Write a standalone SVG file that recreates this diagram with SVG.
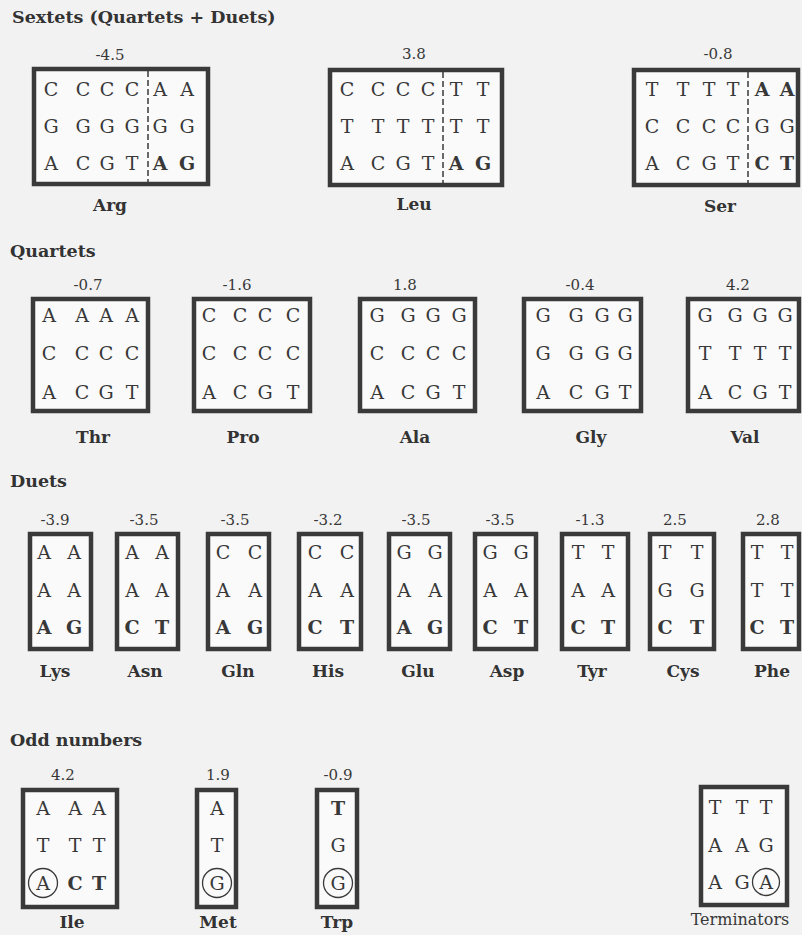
<svg xmlns="http://www.w3.org/2000/svg" width="802" height="935" viewBox="0 0 802 935">
<style>
text{font-family:"DejaVu Serif","Liberation Serif",serif;fill:#383838}
.h{font-size:17.5px;font-weight:bold;fill:#333}
.n{font-size:15px;text-anchor:middle}
.l{font-size:19px;text-anchor:middle}
.b{font-weight:bold}
.lab{font-size:17px;font-weight:bold;text-anchor:middle;fill:#333}
.box{fill:#fafafa;stroke:#3a3a3a;stroke-width:4.5}
.dash{stroke:#3a3a3a;stroke-width:1.5;stroke-dasharray:6 3;fill:none}
.circ{fill:none;stroke:#3a3a3a;stroke-width:1.3}
</style>
<rect x="0" y="0" width="802" height="935" fill="#f2f2f2"/>

<g id="titles">
<text class="h" x="12" y="23">Sextets (Quartets + Duets)</text>
<text class="h" x="10" y="257">Quartets</text>
<text class="h" x="10" y="487">Duets</text>
<text class="h" x="10" y="746">Odd numbers</text>
</g>

<!-- Sextets -->
<g id="arg">
<text class="n" x="110" y="60">-4.5</text>
<rect class="box" x="34" y="69" width="174" height="115"/>
<line class="dash" x1="148" y1="71" x2="148" y2="182"/>
<text class="l" x="51" y="96">C</text><text class="l" x="83" y="96">C</text><text class="l" x="107" y="96">C</text><text class="l" x="132" y="96">C</text><text class="l" x="160" y="96">A</text><text class="l" x="187" y="96">A</text>
<text class="l" x="51" y="133">G</text><text class="l" x="83" y="133">G</text><text class="l" x="107" y="133">G</text><text class="l" x="132" y="133">G</text><text class="l" x="160" y="133">G</text><text class="l" x="187" y="133">G</text>
<text class="l" x="51" y="170">A</text><text class="l" x="83" y="170">C</text><text class="l" x="107" y="170">G</text><text class="l" x="132" y="170">T</text><text class="l b" x="160" y="170">A</text><text class="l b" x="187" y="170">G</text>
<text class="lab" x="110" y="211">Arg</text>
</g>

<g id="leu">
<text class="n" x="414" y="59">3.8</text>
<rect class="box" x="330" y="70" width="172" height="115"/>
<line class="dash" x1="443" y1="72" x2="443" y2="183"/>
<text class="l" x="347" y="96">C</text><text class="l" x="378" y="96">C</text><text class="l" x="403" y="96">C</text><text class="l" x="428" y="96">C</text><text class="l" x="456" y="96">T</text><text class="l" x="483" y="96">T</text>
<text class="l" x="347" y="133">T</text><text class="l" x="378" y="133">T</text><text class="l" x="403" y="133">T</text><text class="l" x="428" y="133">T</text><text class="l" x="456" y="133">T</text><text class="l" x="483" y="133">T</text>
<text class="l" x="347" y="170">A</text><text class="l" x="378" y="170">C</text><text class="l" x="403" y="170">G</text><text class="l" x="428" y="170">T</text><text class="l b" x="456" y="170">A</text><text class="l b" x="483" y="170">G</text>
<text class="lab" x="414" y="210">Leu</text>
</g>

<g id="ser">
<text class="n" x="718" y="59">-0.8</text>
<rect class="box" x="634" y="70" width="164" height="115"/>
<line class="dash" x1="748" y1="72" x2="748" y2="183"/>
<text class="l" x="652" y="96">T</text><text class="l" x="683" y="96">T</text><text class="l" x="709" y="96">T</text><text class="l" x="733" y="96">T</text><text class="l b" x="762" y="96">A</text><text class="l b" x="787" y="96">A</text>
<text class="l" x="652" y="133">C</text><text class="l" x="683" y="133">C</text><text class="l" x="709" y="133">C</text><text class="l" x="733" y="133">C</text><text class="l" x="762" y="133">G</text><text class="l" x="787" y="133">G</text>
<text class="l" x="652" y="170">A</text><text class="l" x="683" y="170">C</text><text class="l" x="709" y="170">G</text><text class="l" x="733" y="170">T</text><text class="l b" x="762" y="170">C</text><text class="l b" x="787" y="170">T</text>
<text class="lab" x="720" y="212">Ser</text>
</g>

<!-- Quartets -->
<g id="thr">
<text class="n" x="88" y="290">-0.7</text>
<rect class="box" x="33" y="299" width="115" height="112"/>
<text class="l" x="49" y="322">A</text><text class="l" x="82" y="322">A</text><text class="l" x="106" y="322">A</text><text class="l" x="132" y="322">A</text>
<text class="l" x="49" y="360">C</text><text class="l" x="82" y="360">C</text><text class="l" x="106" y="360">C</text><text class="l" x="132" y="360">C</text>
<text class="l" x="49" y="399">A</text><text class="l" x="82" y="399">C</text><text class="l" x="106" y="399">G</text><text class="l" x="132" y="399">T</text>
<text class="lab" x="93" y="443">Thr</text>
</g>

<g id="pro">
<text class="n" x="237" y="290">-1.6</text>
<rect class="box" x="194" y="299" width="116" height="112"/>
<text class="l" x="209" y="322">C</text><text class="l" x="240" y="322">C</text><text class="l" x="265" y="322">C</text><text class="l" x="293" y="322">C</text>
<text class="l" x="209" y="360">C</text><text class="l" x="240" y="360">C</text><text class="l" x="265" y="360">C</text><text class="l" x="293" y="360">C</text>
<text class="l" x="209" y="399">A</text><text class="l" x="240" y="399">C</text><text class="l" x="265" y="399">G</text><text class="l" x="293" y="399">T</text>
<text class="lab" x="243" y="443">Pro</text>
</g>

<g id="ala">
<text class="n" x="405" y="290">1.8</text>
<rect class="box" x="360" y="299" width="115" height="112"/>
<text class="l" x="377" y="322">G</text><text class="l" x="408" y="322">G</text><text class="l" x="433" y="322">G</text><text class="l" x="459" y="322">G</text>
<text class="l" x="377" y="360">C</text><text class="l" x="408" y="360">C</text><text class="l" x="433" y="360">C</text><text class="l" x="459" y="360">C</text>
<text class="l" x="377" y="399">A</text><text class="l" x="408" y="399">C</text><text class="l" x="433" y="399">G</text><text class="l" x="459" y="399">T</text>
<text class="lab" x="415" y="443">Ala</text>
</g>

<g id="gly">
<text class="n" x="580" y="290">-0.4</text>
<rect class="box" x="524" y="299" width="117" height="112"/>
<text class="l" x="543" y="322">G</text><text class="l" x="576" y="322">G</text><text class="l" x="602" y="322">G</text><text class="l" x="625" y="322">G</text>
<text class="l" x="543" y="360">G</text><text class="l" x="576" y="360">G</text><text class="l" x="602" y="360">G</text><text class="l" x="625" y="360">G</text>
<text class="l" x="543" y="399">A</text><text class="l" x="576" y="399">C</text><text class="l" x="602" y="399">G</text><text class="l" x="625" y="399">T</text>
<text class="lab" x="591" y="443">Gly</text>
</g>

<g id="val">
<text class="n" x="738" y="290">4.2</text>
<rect class="box" x="688" y="299" width="111" height="112"/>
<text class="l" x="705" y="322">G</text><text class="l" x="735" y="322">G</text><text class="l" x="760" y="322">G</text><text class="l" x="785" y="322">G</text>
<text class="l" x="705" y="360">T</text><text class="l" x="735" y="360">T</text><text class="l" x="760" y="360">T</text><text class="l" x="785" y="360">T</text>
<text class="l" x="705" y="399">A</text><text class="l" x="735" y="399">C</text><text class="l" x="760" y="399">G</text><text class="l" x="785" y="399">T</text>
<text class="lab" x="745" y="443">Val</text>
</g>

<!-- Duets -->
<g id="lys">
<text class="n" x="55" y="525">-3.9</text>
<rect class="box" x="30" y="534" width="61" height="115"/>
<text class="l" x="44" y="559">A</text><text class="l" x="74" y="559">A</text>
<text class="l" x="44" y="597">A</text><text class="l" x="74" y="597">A</text>
<text class="l b" x="44" y="634">A</text><text class="l b" x="74" y="634">G</text>
<text class="lab" x="55" y="677">Lys</text>
</g>
<g id="asn">
<text class="n" x="144" y="525">-3.5</text>
<rect class="box" x="117" y="534" width="61" height="115"/>
<text class="l" x="132" y="559">A</text><text class="l" x="162" y="559">A</text>
<text class="l" x="132" y="597">A</text><text class="l" x="162" y="597">A</text>
<text class="l b" x="132" y="634">C</text><text class="l b" x="162" y="634">T</text>
<text class="lab" x="145" y="677">Asn</text>
</g>
<g id="gln">
<text class="n" x="235" y="525">-3.5</text>
<rect class="box" x="208" y="534" width="61" height="115"/>
<text class="l" x="223" y="559">C</text><text class="l" x="255" y="559">C</text>
<text class="l" x="223" y="597">A</text><text class="l" x="255" y="597">A</text>
<text class="l b" x="223" y="634">A</text><text class="l b" x="255" y="634">G</text>
<text class="lab" x="238" y="677">Gln</text>
</g>
<g id="his">
<text class="n" x="328" y="525">-3.2</text>
<rect class="box" x="299" y="534" width="62" height="115"/>
<text class="l" x="315" y="559">C</text><text class="l" x="347" y="559">C</text>
<text class="l" x="315" y="597">A</text><text class="l" x="347" y="597">A</text>
<text class="l b" x="315" y="634">C</text><text class="l b" x="347" y="634">T</text>
<text class="lab" x="328" y="677">His</text>
</g>
<g id="glu">
<text class="n" x="416" y="525">-3.5</text>
<rect class="box" x="389" y="534" width="61" height="115"/>
<text class="l" x="404" y="559">G</text><text class="l" x="435" y="559">G</text>
<text class="l" x="404" y="597">A</text><text class="l" x="435" y="597">A</text>
<text class="l b" x="404" y="634">A</text><text class="l b" x="435" y="634">G</text>
<text class="lab" x="418" y="677">Glu</text>
</g>
<g id="asp">
<text class="n" x="500" y="525">-3.5</text>
<rect class="box" x="475" y="534" width="61" height="115"/>
<text class="l" x="490" y="559">G</text><text class="l" x="521" y="559">G</text>
<text class="l" x="490" y="597">A</text><text class="l" x="521" y="597">A</text>
<text class="l b" x="490" y="634">C</text><text class="l b" x="521" y="634">T</text>
<text class="lab" x="507" y="677">Asp</text>
</g>
<g id="tyr">
<text class="n" x="590" y="525">-1.3</text>
<rect class="box" x="562" y="534" width="66" height="115"/>
<text class="l" x="578" y="559">T</text><text class="l" x="608" y="559">T</text>
<text class="l" x="578" y="597">A</text><text class="l" x="608" y="597">A</text>
<text class="l b" x="578" y="634">C</text><text class="l b" x="608" y="634">T</text>
<text class="lab" x="592" y="677">Tyr</text>
</g>
<g id="cys">
<text class="n" x="675" y="525">2.5</text>
<rect class="box" x="650" y="534" width="64" height="115"/>
<text class="l" x="665" y="559">T</text><text class="l" x="697" y="559">T</text>
<text class="l" x="665" y="597">G</text><text class="l" x="697" y="597">G</text>
<text class="l b" x="665" y="634">C</text><text class="l b" x="697" y="634">T</text>
<text class="lab" x="683" y="677">Cys</text>
</g>
<g id="phe">
<text class="n" x="768" y="525">2.8</text>
<rect class="box" x="743" y="534" width="56" height="115"/>
<text class="l" x="757" y="559">T</text><text class="l" x="787" y="559">T</text>
<text class="l" x="757" y="597">T</text><text class="l" x="787" y="597">T</text>
<text class="l b" x="757" y="634">C</text><text class="l b" x="787" y="634">T</text>
<text class="lab" x="772" y="677">Phe</text>
</g>

<!-- Odd numbers -->
<g id="ile">
<text class="n" x="63" y="780">4.2</text>
<rect class="box" x="23" y="790" width="94" height="117"/>
<text class="l" x="43" y="815">A</text><text class="l" x="75" y="815">A</text><text class="l" x="99" y="815">A</text>
<text class="l" x="43" y="852">T</text><text class="l" x="75" y="852">T</text><text class="l" x="99" y="852">T</text>
<circle class="circ" cx="43" cy="883" r="14.5"/>
<text class="l" x="43" y="890">A</text><text class="l b" x="75" y="890">C</text><text class="l b" x="99" y="890">T</text>
<text class="lab" x="72" y="928">Ile</text>
</g>
<g id="met">
<text class="n" x="218" y="780">1.9</text>
<rect class="box" x="197" y="790" width="39" height="117"/>
<text class="l" x="217" y="815">A</text>
<text class="l" x="217" y="852">T</text>
<circle class="circ" cx="217" cy="883" r="14.5"/>
<text class="l" x="217" y="890">G</text>
<text class="lab" x="218" y="928">Met</text>
</g>
<g id="trp">
<text class="n" x="338" y="780">-0.9</text>
<rect class="box" x="317" y="790" width="40" height="117"/>
<text class="l b" x="338" y="815">T</text>
<text class="l" x="338" y="852">G</text>
<circle class="circ" cx="338" cy="883" r="14.5"/>
<text class="l" x="338" y="890">G</text>
<text class="lab" x="337" y="928">Trp</text>
</g>
<g id="terminators">
<rect class="box" x="701" y="787" width="86" height="118"/>
<text class="l" x="715" y="814">T</text><text class="l" x="742" y="814">T</text><text class="l" x="766" y="814">T</text>
<text class="l" x="715" y="852">A</text><text class="l" x="742" y="852">A</text><text class="l" x="766" y="852">G</text>
<circle class="circ" cx="766" cy="882" r="13.5"/>
<text class="l" x="715" y="889">A</text><text class="l" x="742" y="889">G</text><text class="l" x="766" y="889">A</text>
<text x="740" y="925" style="font-size:16px;text-anchor:middle">Terminators</text>
</g>

<g id="connectors"/>
</svg>
